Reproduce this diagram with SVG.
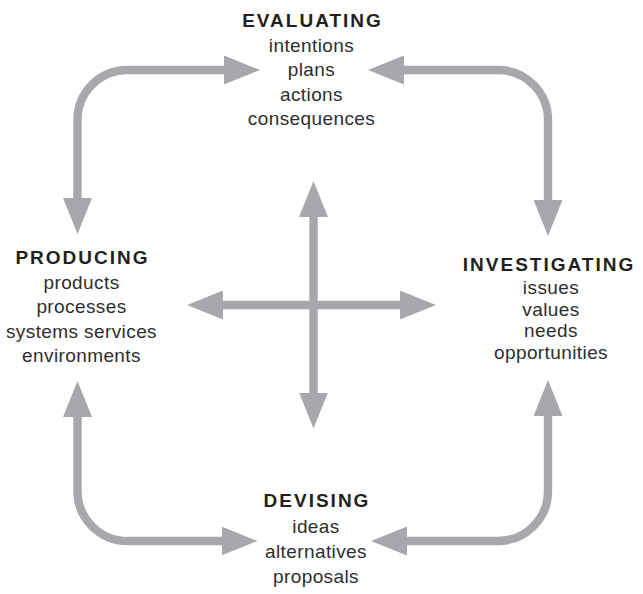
<svg xmlns="http://www.w3.org/2000/svg" width="643" height="594" viewBox="0 0 643 594">
  <style>
    .h { font-family: "Liberation Sans", Arial, sans-serif; font-size: 19px; font-weight: bold; letter-spacing: 2px; fill: #231f20; text-anchor: middle; }
    .t { font-family: "Liberation Sans", Arial, sans-serif; font-size: 19px; letter-spacing: 0.4px; fill: #2e2e2e; text-anchor: middle; }
    .c { fill: none; stroke: #a7a8ab; stroke-width: 8.4; }
  </style>
  <defs>
    <marker id="ah" viewBox="0 0 36 29" refX="2" refY="14.5" markerWidth="36" markerHeight="29" markerUnits="userSpaceOnUse" orient="auto-start-reverse">
      <path d="M0,0 L36,14.5 L0,29 Z" fill="#a7a8ab"/>
    </marker>
  </defs>
  <rect width="643" height="594" fill="#ffffff"/>
  <g id="connectors">
    <path class="c" d="M77.5,200 V120 A50,50 0 0 1 127.5,70 H226" marker-start="url(#ah)" marker-end="url(#ah)"/>
    <path class="c" d="M402,70 H498 A50,50 0 0 1 548,120 V202" marker-start="url(#ah)" marker-end="url(#ah)"/>
    <path class="c" d="M77.5,415 V491 A50,50 0 0 0 127.5,541 H223.5" marker-start="url(#ah)" marker-end="url(#ah)"/>
    <path class="c" d="M405,541 H498 A50,50 0 0 0 548,491 V414" marker-start="url(#ah)" marker-end="url(#ah)"/>
    <path class="c" d="M313.5,215 V394.5" marker-start="url(#ah)" marker-end="url(#ah)"/>
    <path class="c" d="M221,305 H402" marker-start="url(#ah)" marker-end="url(#ah)"/>
  </g>
  <g id="evaluating">
    <text class="h" x="312.5" y="27">EVALUATING</text>
    <text class="t" x="311.5" y="51.5">intentions</text>
    <text class="t" x="311.5" y="76">plans</text>
    <text class="t" x="311.5" y="100.5">actions</text>
    <text class="t" x="311.5" y="125">consequences</text>
  </g>
  <g id="producing">
    <text class="h" x="82.5" y="263.5">PRODUCING</text>
    <text class="t" x="81.5" y="289">products</text>
    <text class="t" x="81.5" y="313">processes</text>
    <text class="t" x="81.5" y="337.5">systems services</text>
    <text class="t" x="81.5" y="361.5">environments</text>
  </g>
  <g id="investigating">
    <text class="h" x="549" y="271">INVESTIGATING</text>
    <text class="t" x="551" y="293.5">issues</text>
    <text class="t" x="551" y="315.5">values</text>
    <text class="t" x="551" y="337">needs</text>
    <text class="t" x="551" y="359">opportunities</text>
  </g>
  <g id="devising">
    <text class="h" x="317" y="507">DEVISING</text>
    <text class="t" x="316" y="532.5">ideas</text>
    <text class="t" x="316" y="558">alternatives</text>
    <text class="t" x="316" y="583">proposals</text>
  </g>
</svg>
